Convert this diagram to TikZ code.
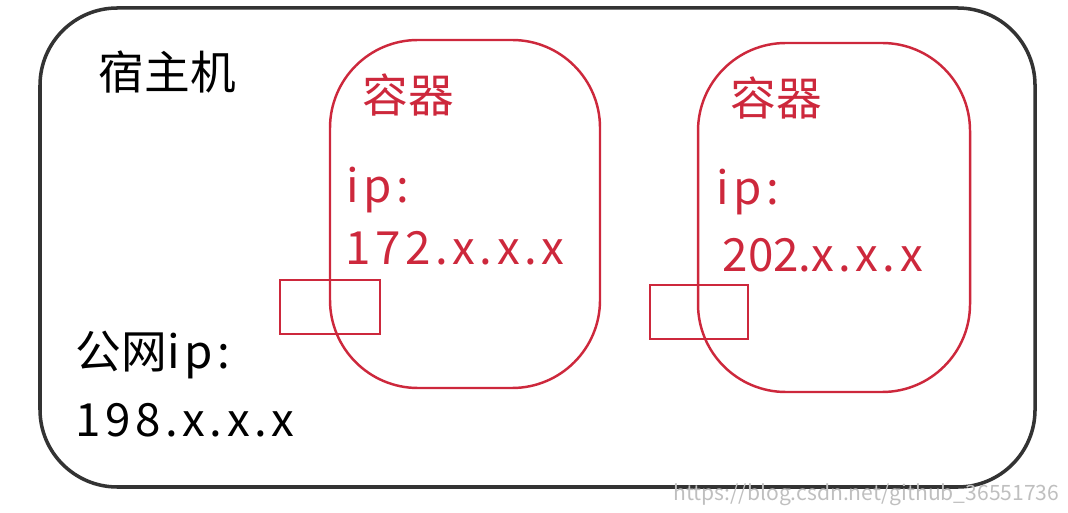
\documentclass[tikz,border=0pt]{standalone}
\usepackage{fontspec}
\setmainfont{Noto Sans CJK SC}
\definecolor{boxred}{RGB}{205,40,60}
\tikzset{
  host/.style={draw=black!80, line width=1pt, rounded corners=22pt},
  cont/.style={draw=boxred, line width=0.7pt, rounded corners=25pt},
  port/.style={draw=boxred, line width=0.7pt},
  lbl/.style={anchor=west, inner sep=0pt, font=\fontsize{13pt}{15pt}\selectfont},
}
\newcommand{\wide}{\addfontfeature{LetterSpace=10}}
\begin{document}
\begin{tikzpicture}[x=0.01cm, y=-0.01cm]
  \useasboundingbox (0,0) rectangle (1068,513);
  % host
  \draw[host] (40,8) rectangle (1035,487);
  % containers
  \draw[cont] (330,40) rectangle (600,388);
  \draw[cont] (698,43) rectangle (970,392);
  \draw[port] (280,280) rectangle (380,334);
  \draw[port] (650,285) rectangle (748,339);
  % texts
  \node[lbl] (host) at (98,72) {宿主机};
  \node[lbl, text=boxred] (c1) at (362,95) {容器};
  \node[lbl, text=boxred] (c2) at (730,98) {容器};
  \node[lbl, text=boxred] (ip1) at (346,190) {\wide ip:};
  \node[lbl, text=boxred] (ad1) at (345,248) {\wide 172.x.x.x};
  \node[lbl, text=boxred] (ip2) at (716,192) {\wide ip:};
  \node[lbl, text=boxred] (ad2) at (722,255) {202.{\wide x.x.x}};
  \node[lbl] (pip) at (75,355) {公网{\wide ip:}};
  \node[lbl] (pad) at (75,420) {\wide 198.x.x.x};
  \node[anchor=east, inner sep=0pt, text=black!25, font=\fontsize{6pt}{7pt}\selectfont] (wm) at (1060,495) {https://blog.csdn.net/github\_36551736};
\end{tikzpicture}
\end{document}
